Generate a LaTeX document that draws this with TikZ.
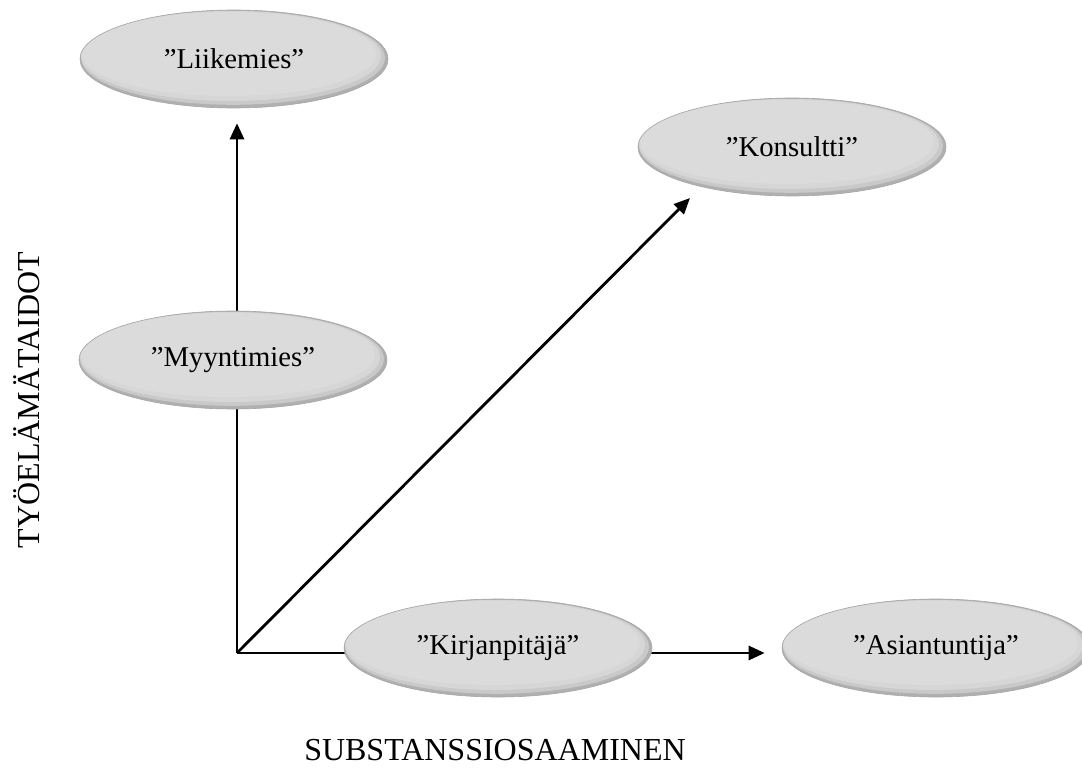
\documentclass[tikz,border=0pt]{standalone}
\usepackage{fontspec}
\setmainfont{Liberation Serif}
\usetikzlibrary{arrows.meta,backgrounds,calc,shapes.geometric}

\tikzset{
  role/.style={ellipse, minimum width=308pt, minimum height=98pt, inner sep=0pt,
    draw=gray!70, line width=0.6pt, fill=gray!62,
    font=\fontsize{28.7}{34}\selectfont,
    path picture={
      \fill[gray!42] ([shift={(-1pt,1.2pt)}]path picture bounding box.center)
        ellipse [x radius=152pt, y radius=47pt];
      \fill[gray!32] ([shift={(-3pt,3pt)}]path picture bounding box.center)
        ellipse [x radius=150pt, y radius=45pt];
      \fill[gray!28] ([shift={(-5pt,5pt)}]path picture bounding box.center)
        ellipse [x radius=147pt, y radius=42pt];
    }},
  axisarrow/.style={line width=2.8pt, -{Triangle[length=16pt,width=14pt]}},
  axislabel/.style={font=\fontsize{32}{38}\selectfont}
}

\begin{document}
\begin{tikzpicture}[x=1pt, y=-1pt]
\useasboundingbox (0,0) rectangle (1082,773);
\clip (0,0) rectangle (1082,773);

% roles
\node[role] (liike)  at (234,59)  {”Liikemies”};
\node[role] (konsu)  at (792,147) {”Konsultti”};
\node[role] (myynti) at (233,360) {”Myyntimies”};
\node[role] (kirjan) at (498,648) {”Kirjanpitäjä”};
\node[role] (asian)  at (936,648) {”Asiantuntija”};

% axes
\coordinate (orig) at (237,653);
\coordinate (diag) at (690,198);
\begin{scope}[on background layer]
  \draw[axisarrow, shorten >=15pt] (orig) -- (orig |- liike.south);
  \draw[axisarrow, shorten >=17pt] (orig) -- (orig -| asian.west);
  \draw[axisarrow] (orig) -- (diag);
\end{scope}

% axis labels
\node[axislabel, rotate=90] (ylab) at (27,400) {TYÖELÄMÄTAIDOT};
\node[axislabel] (xlab) at (495,750) {SUBSTANSSIOSAAMINEN};
\end{tikzpicture}
\end{document}
